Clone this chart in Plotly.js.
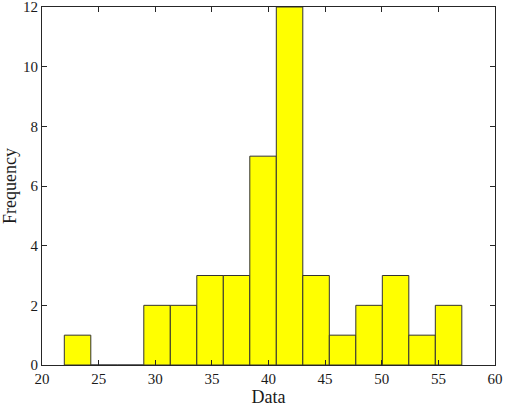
<!DOCTYPE html>
<html>
<head>
<meta charset="utf-8">
<script src="https://cdn.plot.ly/plotly-3.0.1.min.js"></script>
<style>
  html, body { margin: 0; padding: 0; background: #fff; }
  #chart { width: 505px; height: 407px; }
</style>
</head>
<body>
<div id="chart"></div>
<script>
// histogram bins
let binStart = 21.97;
let binWidth = 2.34;
let counts = [1, 0, 0, 2, 2, 3, 3, 7, 12, 3, 1, 2, 3, 1, 2];

let centers = [];
for (let i = 0; i < counts.length; i++) {
    centers.push(binStart + binWidth * (i + 0.5));
}

let axisColor = '#262626';

let layout = {
    width: 505,
    height: 407,
    margin: {l: 42, r: 10, t: 7, b: 42},
    paper_bgcolor: '#fff',
    plot_bgcolor: '#fff',
    showlegend: false,
    bargap: 0,
    font: {family: 'Liberation Serif, Times New Roman, serif', size: 15, color: '#1a1a1a'},
    xaxis: {
        range: [20, 60],
        tickvals: [20, 25, 30, 35, 40, 45, 50, 55, 60],
        ticks: 'inside',
        ticklen: 5,
        tickcolor: axisColor,
        showline: true,
        linecolor: axisColor,
        linewidth: 1,
        mirror: 'ticks',
        showgrid: false,
        zeroline: false,
        ticklabeloverflow: 'allow',
        title: {text: 'Data', standoff: 2}
    },
    yaxis: {
        range: [0, 12],
        tickvals: [0, 2, 4, 6, 8, 10, 12],
        ticks: 'inside',
        ticklen: 5,
        tickcolor: axisColor,
        showline: true,
        linecolor: axisColor,
        linewidth: 1,
        mirror: 'ticks',
        showgrid: false,
        zeroline: false,
        ticklabeloverflow: 'allow',
        title: {text: 'Frequency', standoff: 6}
    }
};

Plotly.newPlot(
    'chart',
    [{
        type: 'bar',
        x: centers,
        y: counts,
        width: binWidth,
        marker: {color: '#ffff00', line: {color: '#333333', width: 1}},
        hoverinfo: 'x+y'
    }],
    layout,
    {staticPlot: true}
);
</script>
</body>
</html>
